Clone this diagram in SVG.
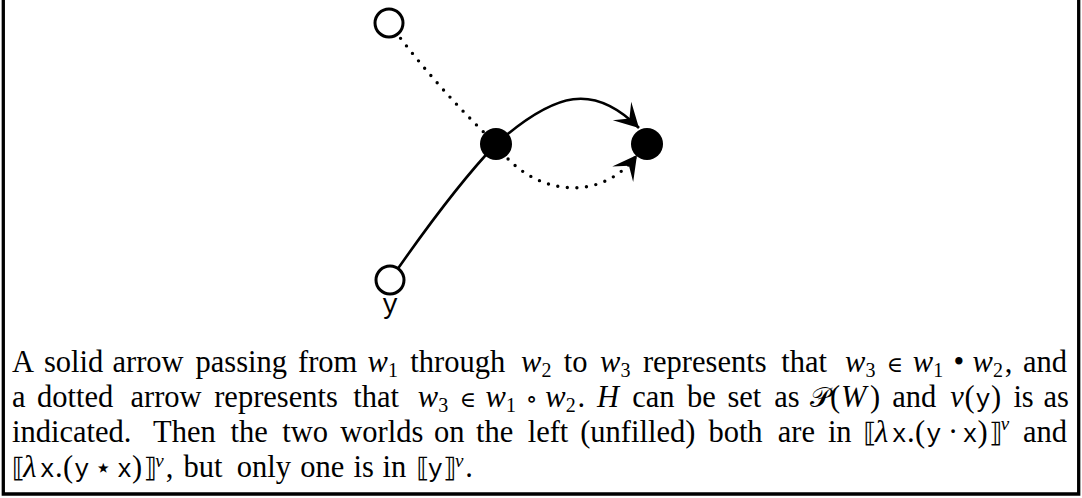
<svg xmlns="http://www.w3.org/2000/svg" width="1082" height="498" viewBox="0 0 1082 498">
<style>
.t{font-family:"Liberation Serif","DejaVu Serif",serif;font-size:30.5px;fill:#000}
.m{font-style:italic}
.s{font-size:20px;font-style:normal}
.sv{font-size:19px;font-style:italic}
.tt{font-family:"Liberation Mono","DejaVu Sans Mono",monospace;font-size:25px;font-style:normal}
.sym{font-family:"DejaVu Serif","DejaVu Sans",serif;text-anchor:middle;font-style:normal}
.br{font-family:"DejaVu Sans","DejaVu Serif",sans-serif;font-size:27px;font-style:normal}
.edge{fill:none;stroke:#000;stroke-width:2.6}
.dot{fill:none;stroke:#000;stroke-width:3.4;stroke-linecap:round;stroke-dasharray:0 9.6}
.open{fill:#fff;stroke:#000;stroke-width:3}
.fill{fill:#000}
</style>
<defs>
<marker id="ah" viewBox="-26 -15 28 30" refX="0" refY="0" markerWidth="28" markerHeight="30" markerUnits="userSpaceOnUse" orient="auto">
<path d="M0,0 L-24,-13 L-13.5,0 L-24,13 Z" fill="#000"/>
</marker>
</defs>
<rect width="1082" height="498" fill="#fff"/>
<path id="frame" d="M3.3,0 V494 H1078.7 V0" fill="none" stroke="#000" stroke-width="3.3"/>
<g id="connectors">
<path class="dot" d="M389,23 Q437,88 496,144"/>
<path class="edge" d="M390,280 Q453,189 496,144 C556,91 594,83 639,128" marker-end="url(#ah)"/>
<path class="dot" d="M496,144 C530,195 600,205 637,155" marker-end="url(#ah)"/>
</g>
<g id="node-top"><circle class="open" cx="389" cy="23" r="14"/></g>
<g id="node-y"><circle class="open" cx="390" cy="280" r="14"/><text x="390" y="313" text-anchor="middle" font-family="Liberation Mono, DejaVu Sans Mono, monospace" font-size="27">y</text></g>
<g id="node-mid"><circle class="fill" cx="496" cy="144" r="16"/></g>
<g id="node-right"><circle class="fill" cx="647" cy="144" r="16"/></g>
<g id="caption">
<text class="t"><tspan x="12" y="372">A</tspan><tspan x="44" y="372">solid</tspan><tspan x="112.5" y="372">arrow</tspan><tspan x="195.5" y="372">passing</tspan><tspan x="298" y="372">from</tspan><tspan x="367.4" y="372" class="m">w</tspan><tspan x="387.9" y="377" class="s">1</tspan><tspan x="410.3" y="372">through</tspan><tspan x="520.9" y="372" class="m">w</tspan><tspan x="541.4" y="377" class="s">2</tspan><tspan x="563.7" y="372">to</tspan><tspan x="600" y="372" class="m">w</tspan><tspan x="620.5" y="377" class="s">3</tspan><tspan x="642.9" y="372">represents</tspan><tspan x="781.2" y="372">that</tspan><tspan x="844.9" y="372" class="m">w</tspan><tspan x="865.4" y="377" class="s">3</tspan><tspan x="895" y="372" class="sym" font-size="22">∈</tspan><tspan x="912.7" y="372" class="m">w</tspan><tspan x="933.2" y="377" class="s">1</tspan><tspan x="958.8" y="372" style="text-anchor:middle">•</tspan><tspan x="972.4" y="372" class="m">w</tspan><tspan x="992.9" y="377" class="s">2</tspan><tspan x="1004.8" y="372">,</tspan><tspan x="1023" y="372">and</tspan></text>
<text class="t"><tspan x="12" y="407">a</tspan><tspan x="37" y="407">dotted</tspan><tspan x="130.5" y="407">arrow</tspan><tspan x="214.2" y="407">represents</tspan><tspan x="353.2" y="407">that</tspan><tspan x="417.7" y="407" class="m">w</tspan><tspan x="438.2" y="412" class="s">3</tspan><tspan x="467.8" y="407" class="sym" font-size="22">∈</tspan><tspan x="485.5" y="407" class="m">w</tspan><tspan x="506" y="412" class="s">1</tspan><tspan x="531.6" y="407" class="sym" font-size="24" font-family="DejaVu Sans">∘</tspan><tspan x="545.2" y="407" class="m">w</tspan><tspan x="565.7" y="412" class="s">2</tspan><tspan x="577.6" y="407">.</tspan><tspan x="596.9" y="407" class="m">H</tspan><tspan x="632.3" y="407">can</tspan><tspan x="687.1" y="407">be</tspan><tspan x="727.4" y="407">set</tspan><tspan x="774.2" y="407">as</tspan><tspan x="820" y="407" class="sym" font-size="28" font-family="DejaVu Sans, Noto Sans, serif">𝒫</tspan><tspan x="830" y="407">(</tspan><tspan x="841" y="407" class="m">W</tspan><tspan x="870" y="407">)</tspan><tspan x="892.3" y="407">and</tspan><tspan x="950.3" y="407" class="m">v</tspan><tspan x="964.4" y="407">(</tspan><tspan x="975.6" y="407" class="tt">y</tspan><tspan x="990.9" y="407">)</tspan><tspan x="1013.4" y="407">is</tspan><tspan x="1043.5" y="407">as</tspan></text>
<text class="t"><tspan x="12" y="442">indicated.</tspan><tspan x="153.1" y="442">Then</tspan><tspan x="230.6" y="442">the</tspan><tspan x="282.2" y="442">two</tspan><tspan x="340.3" y="442">worlds</tspan><tspan x="434.1" y="442">on</tspan><tspan x="476.1" y="442">the</tspan><tspan x="527.7" y="442">left</tspan><tspan x="580.2" y="442">(unfilled)</tspan><tspan x="708.4" y="442">both</tspan><tspan x="777.8" y="442">are</tspan><tspan x="827.9" y="442">in</tspan><tspan x="863.5" y="442" class="br">⟦</tspan><tspan x="875" y="442" class="m">λ</tspan><tspan x="891.7" y="442" class="tt">x</tspan><tspan x="906.9" y="442">.</tspan><tspan x="915" y="442">(</tspan><tspan x="926.3" y="442" class="tt">y</tspan><tspan x="948" y="442">·</tspan><tspan x="962.4" y="442" class="tt">x</tspan><tspan x="977.6" y="442">)</tspan><tspan x="988.9" y="442" class="br">⟧</tspan><tspan x="1000.8" y="430" class="sv">v</tspan><tspan x="1023" y="442">and</tspan></text>
<text class="t"><tspan x="12" y="477" class="br">⟦</tspan><tspan x="23.3" y="477" class="m">λ</tspan><tspan x="39.7" y="477" class="tt">x</tspan><tspan x="55" y="477">.</tspan><tspan x="63" y="477">(</tspan><tspan x="74.3" y="477" class="tt">y</tspan><tspan x="103.2" y="477" class="sym" font-size="28" font-family="DejaVu Sans">⋆</tspan><tspan x="116.9" y="477" class="tt">x</tspan><tspan x="132.1" y="477">)</tspan><tspan x="143.4" y="477" class="br">⟧</tspan><tspan x="155.3" y="466.5" class="sv">v</tspan><tspan x="165.7" y="477">,</tspan><tspan x="183.5" y="477">but</tspan><tspan x="236.7" y="477">only</tspan><tspan x="300.3" y="477">one</tspan><tspan x="353.5" y="477">is</tspan><tspan x="382.6" y="477">in</tspan><tspan x="416.5" y="477" class="br">⟦</tspan><tspan x="427.8" y="477" class="tt">y</tspan><tspan x="443" y="477" class="br">⟧</tspan><tspan x="454.9" y="466.5" class="sv">v</tspan><tspan x="465.3" y="477">.</tspan></text>
</g>
</svg>
